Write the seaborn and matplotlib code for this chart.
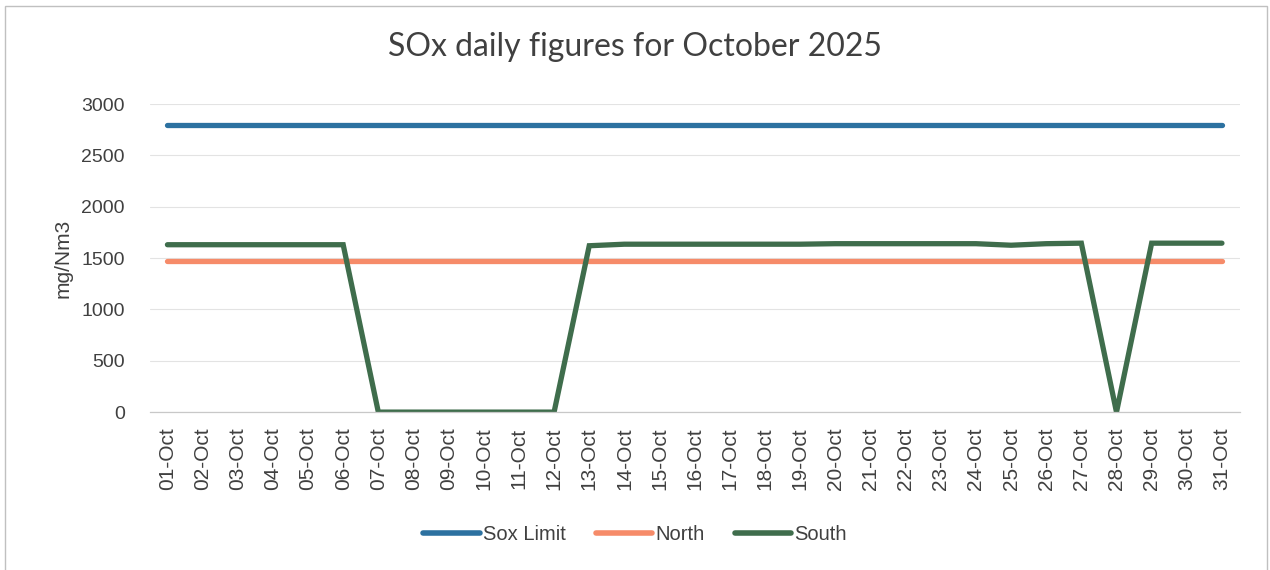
import matplotlib
matplotlib.use("Agg")
import matplotlib.pyplot as plt
import seaborn as sns
import pandas as pd
from matplotlib.lines import Line2D
from matplotlib.patches import Rectangle

days = [f"{d:02d}-Oct" for d in range(1, 32)]
sox_limit = [2800] * 31
north = [1470] * 31
south = [1630, 1630, 1630, 1630, 1630, 1630, 0, 0, 0, 0, 0, 0,
         1620, 1635, 1635, 1635, 1635, 1635, 1635, 1640, 1640, 1640, 1640, 1640,
         1625, 1640, 1645, 0, 1645, 1645, 1645]
series_names = ["Sox Limit", "North", "South"]
colors = ["#2c71a0", "#f68b69", "#3f6d4c"]

rows = []
for name, vals in zip(series_names, [sox_limit, north, south]):
    for i, (d, v) in enumerate(zip(days, vals)):
        rows.append({"pos": i, "day": d, "value": v, "series": name})
df = pd.DataFrame(rows)

sns.set_theme(style="white")
plt.rcParams["font.family"] = ["Liberation Sans", "DejaVu Sans"]

fig = plt.figure(figsize=(12.7, 5.7), dpi=100)
ax = fig.add_axes([0.118, 0.277, 0.858, 0.5405])

sns.lineplot(data=df, x="pos", y="value", hue="series", palette=colors,
             hue_order=series_names, linewidth=3.8, ax=ax, legend=False,
             solid_capstyle="round", solid_joinstyle="miter")

ax.set_xlim(-0.5, len(days) - 0.5)
ax.set_ylim(0, 3000)
ax.set_yticks(range(0, 3001, 500))
ax.set_yticklabels([str(v) for v in range(0, 3001, 500)], fontsize=14, color="#404040")
ax.set_xticks(range(len(days)))
ax.set_xticklabels(days, rotation=90, fontsize=15, color="#404040")
ax.set_xticks([i - 0.5 for i in range(len(days) + 1)], minor=True)
ax.tick_params(axis="x", which="major", length=0, pad=11)
ax.tick_params(axis="x", which="minor", length=5, color="#bfbfbf", width=0.8, direction="out")
ax.tick_params(axis="y", length=0, pad=18)
ax.grid(axis="y", color="#e3e3e3", linewidth=0.8)
ax.set_axisbelow(True)
for s in ["top", "right", "left"]:
    ax.spines[s].set_visible(False)
ax.spines["bottom"].set_color("#c8c8c8")
ax.spines["bottom"].set_linewidth(0.9)

ax.set_xlabel("")
ax.set_ylabel("mg/Nm3", fontsize=15, color="#404040", labelpad=6)

fig.text(0.5, 0.918, "SOx daily figures for October 2025", ha="center", va="center",
         fontsize=23, color="#404040", family=["Lato", "DejaVu Sans"])

handles = [Line2D([0], [0], color=c, linewidth=4, solid_capstyle="round") for c in colors]
fig.legend(handles, series_names, loc="center", bbox_to_anchor=(0.5, 0.063), ncol=3,
           frameon=False, fontsize=14.5, handlelength=2.8, handletextpad=0.15,
           columnspacing=1.5, labelcolor="#404040")

fig.patches.append(Rectangle((0.004, -0.02), 0.994, 1.01, transform=fig.transFigure,
                             fill=False, edgecolor="#c0c0c0", linewidth=1.0))

fig.savefig("out.png", dpi=100, facecolor="white")
